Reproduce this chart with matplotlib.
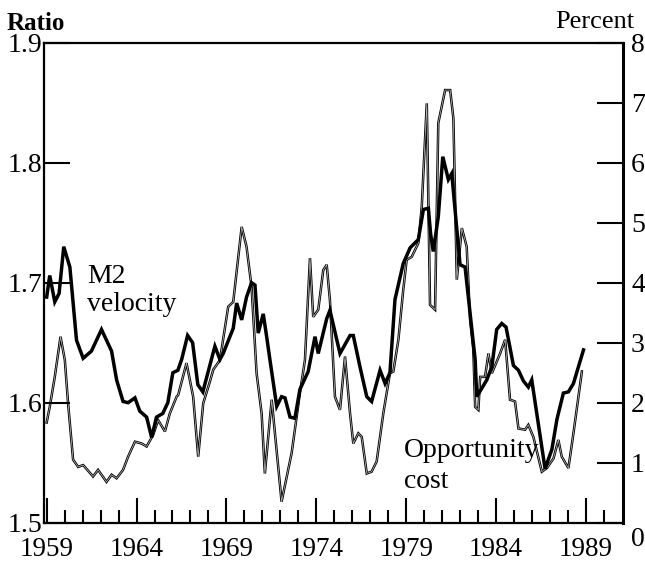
"""
M2 velocity and opportunity cost, 1959-1988
"""
import matplotlib
matplotlib.use("Agg")
import matplotlib.pyplot as plt
import matplotlib.transforms as mtransforms

plt.rcParams['font.family'] = ['Liberation Serif', 'DejaVu Serif']

# M2 velocity (ratio, left axis)
m2_years = [1959.00, 1959.17, 1959.45, 1959.69, 1959.95, 1960.29, 1960.66, 1961.03,
            1961.49, 1962.05, 1962.33, 1962.61, 1962.89, 1963.25, 1963.53, 1963.91,
            1964.18, 1964.56, 1964.84, 1965.11, 1965.46, 1965.74, 1966.02, 1966.30,
            1966.51, 1966.84, 1967.12, 1967.41, 1967.69, 1967.97, 1968.36, 1968.64,
            1968.82, 1969.38, 1969.57, 1969.85, 1970.12, 1970.40, 1970.59, 1970.77,
            1971.05, 1971.24, 1971.42, 1971.80, 1972.07, 1972.26, 1972.54, 1972.81,
            1973.09, 1973.55, 1973.93, 1974.11, 1974.58, 1974.76, 1975.32, 1975.88,
            1976.06, 1976.43, 1976.81, 1977.08, 1977.55, 1977.83, 1978.10, 1978.38,
            1978.84, 1979.22, 1979.68, 1979.96, 1980.24, 1980.36, 1980.51, 1980.79,
            1981.04, 1981.35, 1981.54, 1982.00, 1982.28, 1982.84, 1982.93, 1983.49,
            1983.77, 1984.04, 1984.32, 1984.56, 1984.97, 1985.25, 1985.53, 1985.80,
            1985.99, 1986.27, 1986.73, 1987.11, 1987.39, 1987.75, 1988.03, 1988.31,
            1988.87]
m2_ratio = [1.688, 1.706, 1.684, 1.691, 1.730, 1.713, 1.652, 1.637,
            1.643, 1.661, 1.652, 1.643, 1.619, 1.601, 1.600, 1.604,
            1.593, 1.588, 1.571, 1.588, 1.591, 1.600, 1.625, 1.627,
            1.636, 1.656, 1.650, 1.615, 1.609, 1.625, 1.647, 1.636,
            1.641, 1.662, 1.683, 1.669, 1.688, 1.700, 1.698, 1.658,
            1.674, 1.655, 1.636, 1.597, 1.605, 1.604, 1.588, 1.587,
            1.611, 1.626, 1.655, 1.641, 1.670, 1.677, 1.641, 1.656,
            1.656, 1.630, 1.605, 1.601, 1.627, 1.616, 1.625, 1.686,
            1.716, 1.729, 1.736, 1.761, 1.762, 1.741, 1.726, 1.755,
            1.805, 1.786, 1.791, 1.715, 1.713, 1.636, 1.605, 1.619,
            1.630, 1.661, 1.666, 1.663, 1.631, 1.627, 1.618, 1.613,
            1.619, 1.591, 1.545, 1.561, 1.586, 1.608, 1.609, 1.616,
            1.644]

# opportunity cost (percent, right axis)
oc_years = [1959.00, 1959.17, 1959.45, 1959.77, 1960.01, 1960.19, 1960.47, 1960.75,
            1961.03, 1961.58, 1961.86, 1962.33, 1962.61, 1962.89, 1963.25, 1963.53,
            1963.91, 1964.28, 1964.56, 1964.92, 1965.20, 1965.58, 1965.85, 1966.23,
            1966.32, 1966.78, 1967.15, 1967.43, 1967.71, 1968.08, 1968.27, 1968.64,
            1969.10, 1969.38, 1969.85, 1970.12, 1970.40, 1970.68, 1970.96, 1971.14,
            1971.52, 1972.07, 1972.63, 1973.09, 1973.37, 1973.65, 1973.83, 1974.11,
            1974.39, 1974.58, 1974.76, 1975.04, 1975.32, 1975.60, 1975.88, 1976.06,
            1976.34, 1976.53, 1976.81, 1977.08, 1977.36, 1977.73, 1978.10, 1978.29,
            1978.57, 1978.84, 1979.03, 1979.31, 1979.68, 1979.87, 1980.15, 1980.33,
            1980.61, 1980.79, 1981.17, 1981.45, 1981.63, 1981.82, 1982.10, 1982.37,
            1982.56, 1982.74, 1982.84, 1983.02, 1983.12, 1983.39, 1983.58, 1983.77,
            1984.23, 1984.51, 1984.78, 1985.06, 1985.25, 1985.62, 1985.80, 1986.08,
            1986.55, 1986.83, 1987.20, 1987.47, 1987.66, 1988.03, 1988.31, 1988.78]
oc_pct = [1.67, 1.93, 2.43, 3.10, 2.71, 1.99, 1.05, 0.93,
          0.96, 0.77, 0.88, 0.68, 0.80, 0.74, 0.88, 1.10,
          1.35, 1.32, 1.27, 1.46, 1.71, 1.52, 1.82, 2.10,
          2.13, 2.66, 2.10, 1.10, 1.99, 2.35, 2.55, 2.71,
          3.60, 3.68, 4.93, 4.60, 3.93, 2.49, 1.82, 0.82,
          2.05, 0.35, 1.16, 2.16, 2.71, 4.41, 3.43, 3.55,
          4.21, 4.30, 3.71, 2.10, 1.88, 2.77, 1.82, 1.32,
          1.49, 1.43, 0.82, 0.85, 1.02, 1.82, 2.49, 2.52,
          3.05, 3.88, 4.38, 4.43, 4.66, 5.27, 6.99, 3.63,
          3.55, 6.66, 7.21, 7.21, 6.74, 4.05, 4.91, 4.60,
          3.38, 2.88, 1.93, 1.88, 2.43, 2.43, 2.82, 2.49,
          2.82, 3.05, 2.05, 2.02, 1.57, 1.55, 1.63, 1.43,
          0.85, 0.91, 1.07, 1.38, 1.10, 0.91, 1.49, 2.52]

major_years = list(range(1959, 1990, 5))
minor_years = list(range(1959, 1991))
left_ticks = [1.5, 1.6, 1.7, 1.8, 1.9]
right_ticks = [0, 1, 2, 3, 4, 5, 6, 7, 8]

fig = plt.figure(figsize=(6.45, 5.61), dpi=100)
ax = fig.add_axes([0.0682, 0.0683, 0.8972, 0.8556])
ax2 = ax.twinx()
ax.set_zorder(ax2.get_zorder() + 1)
ax.patch.set_visible(False)

# opportunity cost: thin outlined line
ax2.plot(oc_years, oc_pct, color='black', lw=1.8, solid_joinstyle='miter')
ax2.plot(oc_years, oc_pct, color='#b8b8b8', lw=0.55)
# M2 velocity: heavy line
ax.plot(m2_years, m2_ratio, color='black', lw=2.5, solid_joinstyle='miter')

ax.set_xlim(1958.85, 1991.05)
ax.set_ylim(1.5, 1.9)
ax2.set_ylim(0, 8)

ax.set_xticks(major_years)
ax.set_xticks(minor_years, minor=True)
ax.set_yticks(left_ticks)
ax.set_yticklabels([str(v) for v in left_ticks])
ax2.set_yticks(right_ticks)

ax.tick_params(axis='x', which='major', direction='in', length=18, width=1.5,
               labelsize=19.5, pad=10)
ax.tick_params(axis='x', which='minor', direction='in', length=9.5, width=1.5)
ax.tick_params(axis='y', direction='in', length=19, width=1.5, labelsize=20,
               pad=1.5, right=False)
ax2.tick_params(axis='y', direction='in', length=19, width=1.5, labelsize=20,
                pad=6)

for side in ['left', 'top', 'bottom']:
    ax.spines[side].set_linewidth(1.6)
ax.spines['right'].set_visible(False)
for side in ['left', 'top', 'bottom']:
    ax2.spines[side].set_visible(False)
ax2.spines['right'].set_linewidth(2.2)

# the "0" on the right axis sits a little below the axis line
zero_label = ax2.get_yticklabels()[0]
zero_label.set_transform(zero_label.get_transform() +
                         mtransforms.ScaledTranslation(0, -14 / 100, fig.dpi_scale_trans))

ax.text(1961.25, 1.7, 'M2', fontsize=20, ha='left', va='baseline')
ax.text(1961.25, 1.6765, 'velocity', fontsize=20, ha='left', va='baseline')
ax2.text(1978.9, 1.1, 'Opportunity', fontsize=20, ha='left', va='baseline')
ax2.text(1978.9, 0.58, 'cost', fontsize=20, ha='left', va='baseline')

fig.text(7 / 645, 1 - 30 / 561, 'Ratio', fontsize=18, fontweight='bold',
         ha='left', va='baseline')
fig.text(634 / 645, 1 - 28 / 561, 'Percent', fontsize=19, ha='right', va='baseline')

fig.savefig('out.png', dpi=100)
